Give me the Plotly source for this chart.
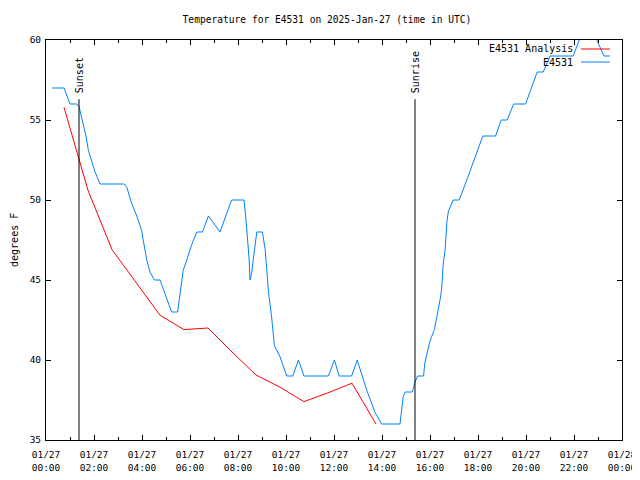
import plotly.graph_objects as go

# ---- data ----
analysis_times = ["2025-01-27 00:45", "2025-01-27 01:45", "2025-01-27 02:45", "2025-01-27 03:45",
                  "2025-01-27 04:45", "2025-01-27 05:45", "2025-01-27 06:45", "2025-01-27 07:45",
                  "2025-01-27 08:45", "2025-01-27 09:45", "2025-01-27 10:45", "2025-01-27 11:45",
                  "2025-01-27 12:45", "2025-01-27 13:45"]
analysis_temps = [55.8, 50.6, 46.9, 44.85, 42.8, 41.9, 42.0, 40.5, 39.06, 38.3, 37.4, 37.95, 38.55, 36.0]

obs_times = ["00:15", "00:45", "01:00", "01:17", "01:23", "01:29", "01:33", "01:40", "01:46", "01:54",
             "02:02", "02:15", "03:16", "03:22", "03:34", "03:47", "03:59", "04:03", "04:12", "04:20",
             "04:31", "04:45", "04:57", "05:14", "05:29", "05:35", "05:43", "05:52", "06:04", "06:17",
             "06:31", "06:46", "07:15", "07:44", "08:15", "08:20", "08:24", "08:28", "08:30", "08:34",
             "08:38", "08:43", "08:47", "09:01", "09:08", "09:12", "09:16", "09:24", "09:31", "09:45",
             "10:02", "10:17", "10:31", "10:45", "11:46", "12:01", "12:13", "12:44", "12:58", "13:22",
             "13:43", "13:59", "14:45", "14:53", "14:58", "15:16", "15:22", "15:29", "15:44", "15:47",
             "15:52", "15:58", "16:04", "16:11", "16:25", "16:29", "16:33", "16:38", "16:42", "16:46",
             "16:58", "17:13", "17:32", "17:48", "17:59", "18:12", "18:44", "18:58", "19:13", "19:29",
             "19:59", "20:28", "20:43", "21:00", "21:58", "22:13", "22:35", "22:57", "23:15", "23:30"]
obs_temps = [57.0, 57.0, 56.0, 56.0, 55.8, 55.2, 54.8, 54.0, 53.1, 52.4,
             51.8, 51.0, 51.0, 50.8, 49.8, 49.0, 48.1, 47.5, 46.25, 45.5,
             45.0, 45.0, 44.2, 43.0, 43.0, 44.0, 45.6, 46.25, 47.2, 48.0,
             48.0, 49.0, 48.0, 50.0, 50.0, 48.75, 47.6, 46.25, 45.0, 45.4,
             46.25, 47.3, 48.0, 48.0, 46.9, 45.6, 44.3, 42.7, 40.9, 40.2,
             39.0, 39.0, 40.0, 39.0, 39.0, 40.0, 39.0, 39.0, 40.0, 38.1,
             36.7, 36.0, 36.0, 37.7, 38.0, 38.0, 38.6, 39.0, 39.0, 39.8,
             40.4, 41.0, 41.45, 41.9, 43.75, 44.4, 46.0, 46.9, 48.6, 49.3,
             50.0, 50.0, 51.25, 52.3, 53.1, 54.0, 54.0, 55.0, 55.0, 56.0,
             56.0, 58.0, 58.0, 59.0, 59.0, 60.0, 61.0, 60.0, 59.0, 59.0]
obs_times = ["2025-01-27 " + t for t in obs_times]

sunset_time = "2025-01-27 01:22:30"
sunrise_time = "2025-01-27 15:22:30"
event_line_top = 56.3

tick_times = ["2025-01-27 00:00", "2025-01-27 02:00", "2025-01-27 04:00", "2025-01-27 06:00",
              "2025-01-27 08:00", "2025-01-27 10:00", "2025-01-27 12:00", "2025-01-27 14:00",
              "2025-01-27 16:00", "2025-01-27 18:00", "2025-01-27 20:00", "2025-01-27 22:00",
              "2025-01-28 00:00"]
tick_labels = ["01/27<br>00:00", "01/27<br>02:00", "01/27<br>04:00", "01/27<br>06:00",
               "01/27<br>08:00", "01/27<br>10:00", "01/27<br>12:00", "01/27<br>14:00",
               "01/27<br>16:00", "01/27<br>18:00", "01/27<br>20:00", "01/27<br>22:00",
               "01/28<br>00:00"]

RED = "#ff0000"
BLUE = "#0080ff"
FONT = "DejaVu Sans Mono"

# the page body adds an 8px offset; margins compensate so the plot area matches the reference
W, H = 640, 472

fig = go.Figure()
fig.add_trace(go.Scatter(x=analysis_times, y=analysis_temps, mode="lines",
                         line=dict(color=RED, width=1), name="E4531 Analysis", showlegend=False))
fig.add_trace(go.Scatter(x=obs_times, y=obs_temps, mode="lines",
                         line=dict(color=BLUE, width=1), name="E4531", showlegend=False))

for t, label in [(sunset_time, "Sunset"), (sunrise_time, "Sunrise")]:
    fig.add_shape(type="line", xref="x", yref="y", x0=t, x1=t, y0=35, y1=event_line_top,
                  line=dict(color="black", width=1))
    fig.add_annotation(x=t, y=event_line_top, xref="x", yref="y", text=label, textangle=-90,
                       showarrow=False, xanchor="center", yanchor="bottom", yshift=4,
                       font=dict(family=FONT, size=10, color="black"))

# gnuplot-style legend: text on the left, sample on the right
legend_items = [("E4531 Analysis", RED, 0.9775), ("E4531", BLUE, 0.945)]
for text, col, yp in legend_items:
    fig.add_annotation(x=0.918, y=yp, xref="paper", yref="paper", text=text, showarrow=False,
                       xanchor="right", yanchor="middle", font=dict(family=FONT, size=10, color="black"))
    fig.add_shape(type="line", xref="paper", yref="paper", x0=0.9288, x1=0.979, y0=yp, y1=yp,
                  line=dict(color=col, width=1))

fig.add_annotation(x=-0.0556, y=0.5, xref="paper", yref="paper", text="degrees F", textangle=-90,
                   showarrow=False, xanchor="center", yanchor="middle",
                   font=dict(family=FONT, size=10, color="black"))

fig.update_layout(
    width=W, height=H,
    margin=dict(l=38, r=26, t=32, b=40, autoexpand=False),
    paper_bgcolor="white", plot_bgcolor="white",
    title=dict(text="Temperature for E4531 on 2025-Jan-27 (time in UTC)", x=0.5, xanchor="center",
               y=1 - 12 / H, yanchor="middle", font=dict(family=FONT, size=9.6, color="black")),
    font=dict(family=FONT, size=10, color="black"),
    showlegend=False,
)
fig.update_layout(title_x=(38 + 576 / 2) / W - 0.5 * 0 + (327 - 334) / W)
fig.update_xaxes(type="date", range=["2025-01-27 00:00", "2025-01-28 00:00"],
                 tickmode="array", tickvals=tick_times, ticktext=tick_labels,
                 ticks="inside", ticklen=5, tickcolor="black", showgrid=False, zeroline=False,
                 showline=True, linecolor="black", linewidth=1, mirror="ticks",
                 ticklabelstandoff=6,
                 minor=dict(dtick=3600000, tick0="2025-01-27", ticks="inside", ticklen=3,
                            tickcolor="black", showgrid=False),
                 tickfont=dict(family=FONT, size=9.5, color="black"))
fig.update_yaxes(range=[35, 60], dtick=5, tick0=35, ticks="inside", ticklen=5, tickcolor="black",
                 showgrid=False, zeroline=False, showline=True, linecolor="black", linewidth=1,
                 mirror="ticks", ticklabelstandoff=2,
                 tickfont=dict(family=FONT, size=9.5, color="black"))

fig.write_html("out.html")
